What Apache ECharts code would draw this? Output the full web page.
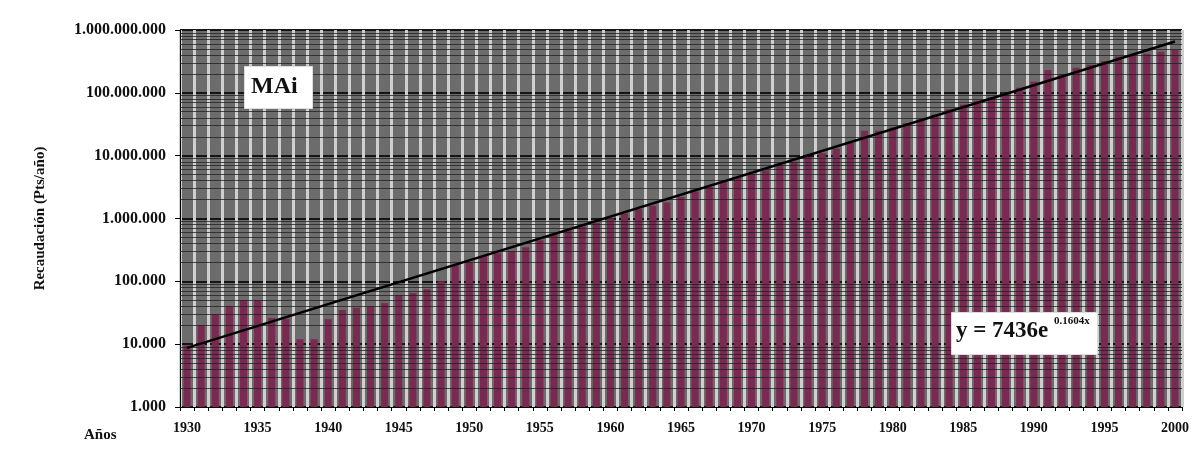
<!DOCTYPE html>
<html>
<head>
<meta charset="utf-8">
<script src="https://cdn.jsdelivr.net/npm/echarts@6/dist/echarts.min.js"></script>
<style>
  html, body { margin: 0; padding: 0; background: #ffffff; }
  #chart { width: 1203px; height: 450px; }
</style>
</head>
<body>
<div id="chart"></div>
<script>
// Years on the horizontal axis
const years = [];
for (let y = 1930; y <= 2000; y++) years.push(String(y));

// Annual collection (Pts/año), one value per year 1930–2000
const recaudacion = [
  9500, 20000, 30000, 40000, 50000, 50000, 26000, 25000, 12000, 12000,
  25000, 35000, 38000, 40000, 45000, 60000, 65000, 75000, 100000, 180000,
  200000, 250000, 280000, 300000, 350000, 450000, 550000, 650000, 750000, 850000,
  1000000, 1200000, 1400000, 1600000, 1800000, 2200000, 2700000, 3200000, 3800000, 4500000,
  5000000, 5800000, 7000000, 8000000, 9500000, 11000000, 13000000, 16000000, 25000000, 25000000,
  28000000, 33000000, 38000000, 45000000, 55000000, 65000000, 75000000, 85000000, 100000000, 120000000,
  150000000, 230000000, 200000000, 250000000, 280000000, 320000000, 380000000, 400000000, 420000000, 450000000,
  480000000
];

// Exponential fit y = A·e^(B·x), x = 1 for the first year
const trendCoef = [7436, 0.1604];
const trendLabel = ['y = 7436e', '0.1604x'];
const seriesTitle = ['MAi'];

// Decade tick labels of the log axis
const yTickLabels = ['1.000', '10.000', '100.000', '1.000.000', '10.000.000', '100.000.000', '1.000.000.000'];

// Intermediate grid values 2..9 × 10^n inside each decade
const minorGrid = [];
for (let e = 3; e < 9; e++) {
  for (let k = 2; k <= 9; k++) minorGrid.push(k * Math.pow(10, e));
}

// Trend line endpoints evaluated at the first and last year
const n = years.length;
const trendData = [
  [0, trendCoef[0] * Math.exp(trendCoef[1] * 1)],
  [n - 1, trendCoef[0] * Math.exp(trendCoef[1] * n)]
];

const serif = '"Liberation Serif", "Times New Roman", serif';

const chart = echarts.init(document.getElementById('chart'));
chart.setOption({
  animation: false,
  grid: {
    left: 180, right: 21, top: 30, bottom: 43,
    show: true,
    backgroundColor: '#6c6c6c',
    borderColor: '#4a4a4a',
    borderWidth: 1
  },
  xAxis: {
    type: 'category',
    data: years,
    boundaryGap: true,
    axisLine: { lineStyle: { color: '#000', width: 1 } },
    axisTick: { show: true, interval: 0, length: 4, lineStyle: { color: '#000' } },
    axisLabel: {
      interval: 4,
      margin: 14,
      fontFamily: serif, fontWeight: 'bold', fontSize: 14, color: '#111'
    },
    splitLine: { show: true, interval: 0, lineStyle: { color: '#cfcfcf', width: 3 } }
  },
  yAxis: {
    type: 'log',
    logBase: 10,
    min: 1000,
    max: 1000000000,
    name: 'Recaudación (Pts/año)',
    nameLocation: 'middle',
    nameRotate: 90,
    nameGap: 132,
    nameTextStyle: { fontFamily: serif, fontWeight: 'bold', fontSize: 15, color: '#111' },
    axisLine: { show: true, lineStyle: { color: '#000' } },
    axisTick: { show: true, length: 5, lineStyle: { color: '#000' } },
    axisLabel: {
      margin: 14,
      fontFamily: serif, fontWeight: 'bold', fontSize: 16, color: '#111',
      formatter: function (v) {
        const i = Math.round(Math.log10(v)) - 3;
        return yTickLabels[i] !== undefined ? yTickLabels[i] : '';
      }
    },
    splitLine: { show: true, lineStyle: { color: '#151515', width: 2 } }
  },
  series: [
    {
      name: seriesTitle[0],
      type: 'bar',
      data: recaudacion,
      barWidth: '50%',
      itemStyle: { color: '#7a2a50' },
      z: 2,
      markLine: {
        silent: true,
        symbol: 'none',
        label: { show: false },
        lineStyle: { color: '#1e1e1e', width: 1, type: 'solid', opacity: 0.75 },
        data: minorGrid.map(v => ({ yAxis: v }))
      }
    },
    {
      name: 'tendencia',
      type: 'line',
      data: trendData,
      symbol: 'none',
      lineStyle: { color: '#000', width: 2.5 },
      z: 5
    }
  ],
  graphic: {
    elements: [
      { type: 'rect', left: 244, top: 66, z: 100, zlevel: 1,
        shape: { width: 68, height: 42 }, style: { fill: '#fff', stroke: '#ddd' } },
      { type: 'text', left: 251, top: 75, z: 101, zlevel: 1,
        style: { text: seriesTitle[0], font: 'bold 24px ' + serif, fill: '#111' } },
      { type: 'rect', left: 951, top: 312, z: 100, zlevel: 1,
        shape: { width: 146, height: 42 }, style: { fill: '#fff', stroke: '#ddd' } },
      { type: 'text', left: 956, top: 320, z: 101, zlevel: 1,
        style: { text: trendLabel[0], font: 'bold 23px ' + serif, fill: '#111' } },
      { type: 'text', left: 1054, top: 316, z: 101, zlevel: 1,
        style: { text: trendLabel[1], font: 'bold 11px ' + serif, fill: '#111' } },
      { type: 'text', left: 84, top: 428, z: 101,
        style: { text: 'Años', font: 'bold 15px ' + serif, fill: '#111' } }
    ]
  }
});
</script>
</body>
</html>
